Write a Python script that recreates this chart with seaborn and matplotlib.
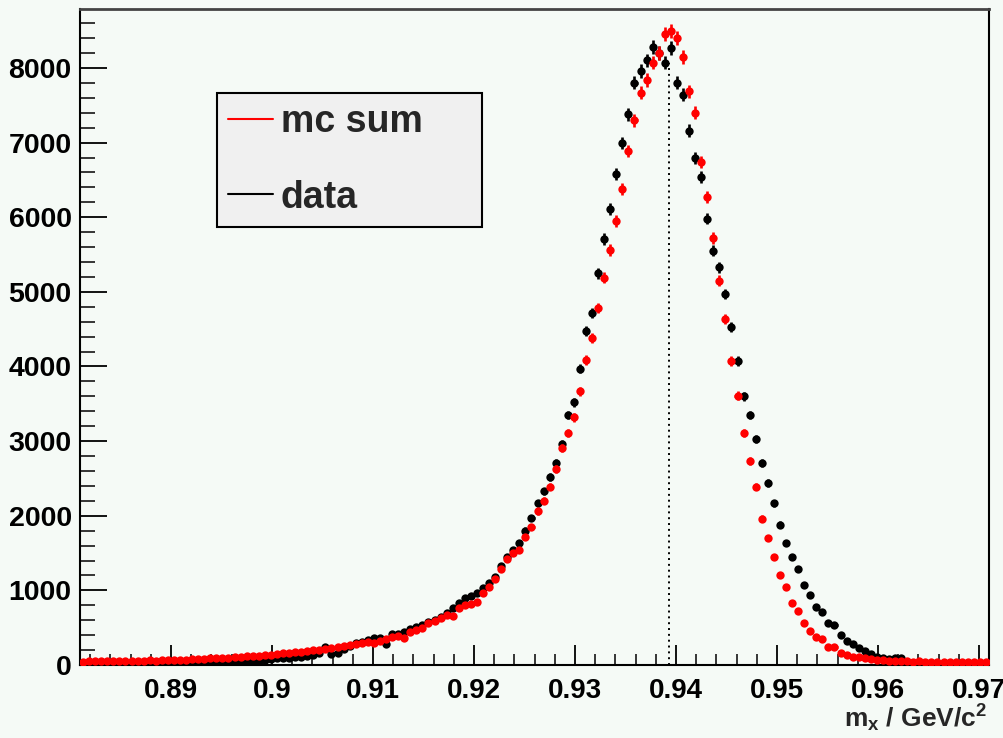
import numpy as np
import pandas as pd
import matplotlib
matplotlib.use("Agg")
import matplotlib.pyplot as plt
import seaborn as sns
from matplotlib.lines import Line2D
from matplotlib.ticker import MultipleLocator, FixedLocator

# ---------------- data ----------------
bin_lo = 0.881
bin_width = 0.0006
n_bins = 150

mc_sum = [
    45, 50, 48, 52, 50, 55, 53, 50, 55, 58,
    60, 62, 58, 65, 63, 68, 70, 72, 75, 78,
    85, 90, 88, 95, 100, 105, 110, 115, 118, 125,
    130, 140, 150, 155, 160, 170, 178, 185, 195, 205,
    220, 230, 240, 255, 268, 280, 295, 305, 300, 320,
    345, 375, 390, 365, 440, 470, 500, 560, 590, 630,
    670, 650, 760, 800, 820, 850, 960, 1045, 1150, 1290,
    1420, 1500, 1540, 1715, 1850, 2060, 2200, 2390, 2630, 2910,
    3110, 3320, 3670, 4090, 4380, 4780, 5190, 5560, 5950, 6380,
    6890, 7300, 7665, 7840, 8070, 8200, 8455, 8500, 8400, 8150,
    7690, 7400, 6740, 6270, 5720, 5150, 4640, 4070, 3610, 3110,
    2730, 2390, 1960, 1700, 1450, 1210, 1045, 830, 720, 565,
    455, 375, 350, 240, 240, 160, 135, 110, 105, 95,
    80, 70, 65, 60, 55, 50, 48, 45, 50, 45,
    42, 45, 40, 44, 40, 42, 45, 40, 43, 42,
]

data = [
    10, 15, 12, 18, 15, 20, 18, 22, 20, 25,
    22, 25, 28, 25, 30, 28, 32, 35, 30, 35,
    38, 35, 40, 42, 38, 45, 50, 48, 55, 60,
    70, 80, 90, 95, 100, 110, 105, 120, 130, 160,
    240, 150, 160, 210, 250, 295, 310, 330, 360, 365,
    285, 415, 420, 440, 480, 510, 540, 570, 600, 645,
    700, 765, 830, 900, 930, 965, 1030, 1100, 1180, 1320,
    1450, 1540, 1640, 1800, 1970, 2170, 2330, 2520, 2710, 2960,
    3350, 3520, 3970, 4480, 4720, 5250, 5710, 6110, 6580, 6995,
    7380, 7800, 7960, 8100, 8280, 8200, 8070, 8270, 7800, 7640,
    7160, 6790, 6540, 5980, 5550, 5330, 4970, 4530, 4070, 3600,
    3350, 3030, 2710, 2440, 2170, 1880, 1635, 1450, 1290, 1070,
    940, 780, 710, 565, 535, 400, 320, 280, 230, 190,
    150, 110, 95, 85, 90, 90, 0, 0, 0, 0,
    0, 0, 0, 0, 0, 0, 0, 0, 0, 0,
]

series_names = ["mc sum", "data"]
series_colors = {"mc sum": "#ff0000", "data": "#000000"}

x_ticks = [0.89, 0.90, 0.91, 0.92, 0.93, 0.94, 0.95, 0.96, 0.97]
x_tick_labels = ["0.89", "0.9", "0.91", "0.92", "0.93", "0.94", "0.95", "0.96", "0.97"]
y_ticks = [0, 1000, 2000, 3000, 4000, 5000, 6000, 7000, 8000]
y_tick_labels = [str(v) for v in y_ticks]

peak_line_x = 0.9393
peak_line_top = 8070
x_label = r"$m_x$ / GeV/c$^2$"

# ---------------- style ----------------
sns.set_theme(style="ticks")
bg = "#f5faf6"
plt.rcParams["font.family"] = ["Liberation Sans", "DejaVu Sans"]
plt.rcParams["font.weight"] = "bold"
plt.rcParams["mathtext.fontset"] = "custom"
plt.rcParams["mathtext.rm"] = "Liberation Sans:bold"
plt.rcParams["mathtext.it"] = "Liberation Sans:bold"
plt.rcParams["mathtext.bf"] = "Liberation Sans:bold"
plt.rcParams["mathtext.default"] = "bf"

fig = plt.figure(figsize=(10.04, 7.38), dpi=100, facecolor=bg)
ax = fig.add_axes([80 / 1004, 1 - 665 / 738, 909 / 1004, 656 / 738])
ax.set_facecolor(bg)

edges = bin_lo + bin_width * np.arange(n_bins + 1)
centers = 0.5 * (edges[:-1] + edges[1:])

df = pd.DataFrame({
    "m": np.concatenate([centers, centers]),
    "counts": np.array(data + mc_sum, dtype=float),
    "series": ["data"] * n_bins + ["mc sum"] * n_bins,
})
df = df[df["counts"] > 0]

z = 2
for name in ["data", "mc sum"]:
    sub = df[df["series"] == name]
    col = series_colors[name]
    ax.errorbar(sub["m"], sub["counts"], xerr=bin_width / 2,
                yerr=np.sqrt(sub["counts"]), fmt="none", ecolor=col,
                elinewidth=1.9, capsize=0, zorder=z)
    sns.scatterplot(data=sub, x="m", y="counts", color=col, s=36,
                    marker="o", linewidth=0, legend=False, ax=ax, zorder=z + 1)
    z += 2

ax.vlines(peak_line_x, 0, peak_line_top, colors="black",
          linestyles=(0, (1, 2)), linewidth=1.4, zorder=1)

ax.set_xlim(bin_lo, bin_lo + bin_width * n_bins)
ax.set_ylim(0, 8790)

ax.xaxis.set_major_locator(FixedLocator(x_ticks))
ax.set_xticklabels(x_tick_labels)
ax.xaxis.set_minor_locator(MultipleLocator(0.002))
ax.yaxis.set_major_locator(FixedLocator(y_ticks))
ax.set_yticklabels(y_tick_labels)
ax.yaxis.set_minor_locator(MultipleLocator(200))

ax.tick_params(axis="x", which="major", direction="in", length=14.4, width=1.3,
               pad=9, labelsize=20, colors="black")
ax.tick_params(axis="x", which="minor", direction="in", length=7.9, width=1.3)
ax.tick_params(axis="y", which="major", direction="in", length=19.5, width=1.3,
               pad=6, labelsize=20.5, colors="black")
ax.tick_params(axis="y", which="minor", direction="in", length=10.8, width=1.3)
for lab in ax.get_xticklabels() + ax.get_yticklabels():
    lab.set_fontweight("bold")

for s in ["left", "bottom", "right"]:
    ax.spines[s].set_color("black")
    ax.spines[s].set_linewidth(1.5)
ax.spines["top"].set_color("#444444")
ax.spines["top"].set_linewidth(2.0)

ax.set_xlabel("")
ax.set_ylabel("")
fig.text(987 / 1004, 1 - 718 / 738, x_label, ha="right", va="center",
         fontsize=19, fontweight="bold")

handles = [Line2D([0], [0], color=series_colors[n], lw=1.5) for n in series_names]
leg = ax.legend(handles, series_names, loc="upper left",
                bbox_to_anchor=(0.1507, 0.668, 0.2915, 0.204), mode="expand",
                borderaxespad=0, frameon=True, fancybox=False,
                facecolor="#f0f0f0", edgecolor="black", framealpha=1,
                handlelength=1.2, handletextpad=0.2, borderpad=0.3,
                labelspacing=1.05, prop={"weight": "bold", "size": 27})
leg.get_frame().set_linewidth(1.5)

fig.savefig("out.png", dpi=100, facecolor=bg)
